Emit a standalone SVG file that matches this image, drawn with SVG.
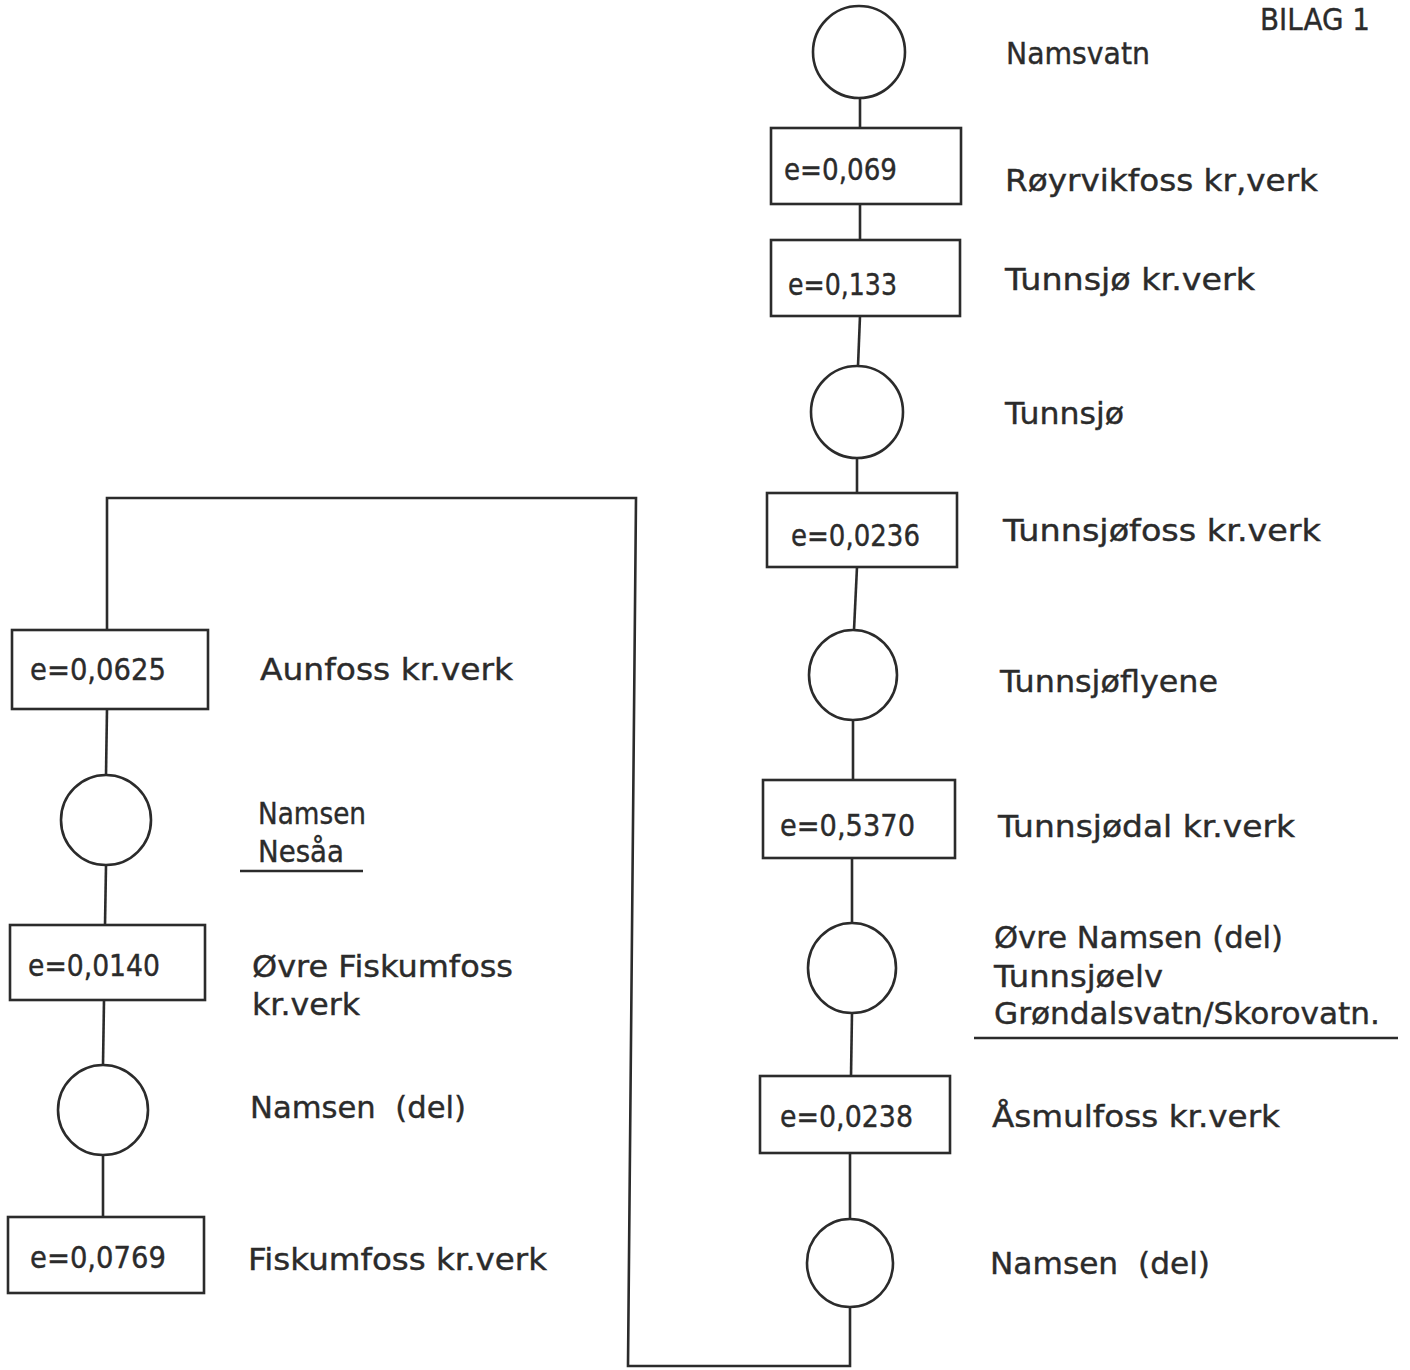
<svg xmlns="http://www.w3.org/2000/svg" width="1410" height="1370" viewBox="0 0 1410 1370">
<style>
.s{fill:none;stroke:#2b2b2b;stroke-width:2.6}
.b{fill:#fff;stroke:#2b2b2b;stroke-width:2.6}
.t{font-family:"DejaVu Sans",sans-serif;font-size:31px;fill:#2b2b2b;stroke:#2b2b2b;stroke-width:0.4}
</style>
<rect width="1410" height="1370" fill="#fff"/>
<g id="connectors" class="s">
<line x1="860" y1="98" x2="860" y2="128"/>
<line x1="860" y1="204" x2="860" y2="240"/>
<line x1="860" y1="316" x2="858" y2="366"/>
<line x1="857" y1="458" x2="857" y2="493"/>
<line x1="857" y1="567" x2="854" y2="630"/>
<line x1="853" y1="720" x2="853" y2="780"/>
<line x1="852" y1="858" x2="852" y2="923"/>
<line x1="852" y1="1013" x2="851" y2="1076"/>
<line x1="850" y1="1153" x2="850" y2="1220"/>
<polyline points="850,1307 850,1366 628,1366 636,498 107,498 107,630"/>
<line x1="107" y1="709" x2="106" y2="775"/>
<line x1="106" y1="866" x2="105" y2="925"/>
<line x1="104" y1="1000" x2="103" y2="1065"/>
<line x1="103" y1="1155" x2="103" y2="1217"/>
</g>
<g id="bilag"><text class="t" x="1260" y="30" font-size="28" textLength="110" lengthAdjust="spacingAndGlyphs">BILAG 1</text></g>
<g id="namsvatn"><ellipse class="b" cx="859" cy="52" rx="46" ry="46"/><text class="t" x="1006" y="64" textLength="144" lengthAdjust="spacingAndGlyphs">Namsvatn</text></g>
<g id="royrvikfoss"><rect class="b" x="771" y="128" width="190" height="76"/><text class="t" x="784" y="180" textLength="113" lengthAdjust="spacingAndGlyphs">e=0,069</text><text class="t" x="1005" y="191" textLength="313" lengthAdjust="spacingAndGlyphs">Røyrvikfoss kr,verk</text></g>
<g id="tunnsjo-kv"><rect class="b" x="771" y="240" width="189" height="76"/><text class="t" x="788" y="295" textLength="109" lengthAdjust="spacingAndGlyphs">e=0,133</text><text class="t" x="1005" y="290" textLength="250" lengthAdjust="spacingAndGlyphs">Tunnsjø kr.verk</text></g>
<g id="tunnsjo"><ellipse class="b" cx="857" cy="412" rx="46" ry="46"/><text class="t" x="1005" y="424" textLength="119" lengthAdjust="spacingAndGlyphs">Tunnsjø</text></g>
<g id="tunnsjofoss"><rect class="b" x="767" y="493" width="190" height="74"/><text class="t" x="791" y="546" textLength="129" lengthAdjust="spacingAndGlyphs">e=0,0236</text><text class="t" x="1003" y="541" textLength="318" lengthAdjust="spacingAndGlyphs">Tunnsjøfoss kr.verk</text></g>
<g id="tunnsjoflyene"><ellipse class="b" cx="853" cy="675" rx="44" ry="45"/><text class="t" x="1000" y="692" textLength="218" lengthAdjust="spacingAndGlyphs">Tunnsjøflyene</text></g>
<g id="tunnsjodal"><rect class="b" x="763" y="780" width="192" height="78"/><text class="t" x="780" y="836" textLength="135" lengthAdjust="spacingAndGlyphs">e=0,5370</text><text class="t" x="998" y="837" textLength="297" lengthAdjust="spacingAndGlyphs">Tunnsjødal kr.verk</text></g>
<g id="ovre-namsen"><ellipse class="b" cx="852" cy="968" rx="44" ry="45"/><text class="t" x="994" y="948" textLength="289" lengthAdjust="spacingAndGlyphs">Øvre Namsen (del)</text><text class="t" x="994" y="987" textLength="169" lengthAdjust="spacingAndGlyphs">Tunnsjøelv</text><text class="t" x="994" y="1024" textLength="386" lengthAdjust="spacingAndGlyphs">Grøndalsvatn/Skorovatn.</text><line class="s" x1="974" y1="1038" x2="1398" y2="1038"/></g>
<g id="asmulfoss"><rect class="b" x="760" y="1076" width="190" height="77"/><text class="t" x="780" y="1127" textLength="133" lengthAdjust="spacingAndGlyphs">e=0,0238</text><text class="t" x="992" y="1127" textLength="288" lengthAdjust="spacingAndGlyphs">Åsmulfoss kr.verk</text></g>
<g id="namsen-del-r"><ellipse class="b" cx="850" cy="1263" rx="43" ry="44"/><text class="t" x="990" y="1274" textLength="220" lengthAdjust="spacingAndGlyphs" xml:space="preserve">Namsen  (del)</text></g>
<g id="aunfoss"><rect class="b" x="12" y="630" width="196" height="79"/><text class="t" x="30" y="680" textLength="136" lengthAdjust="spacingAndGlyphs">e=0,0625</text><text class="t" x="260" y="680" textLength="253" lengthAdjust="spacingAndGlyphs">Aunfoss kr.verk</text></g>
<g id="namsen-nesaa"><ellipse class="b" cx="106" cy="820" rx="45" ry="45"/><text class="t" x="258" y="824" textLength="108" lengthAdjust="spacingAndGlyphs">Namsen</text><text class="t" x="258" y="862" textLength="86" lengthAdjust="spacingAndGlyphs">Nesåa</text><line class="s" x1="240" y1="871" x2="363" y2="871"/></g>
<g id="ovre-fiskumfoss"><rect class="b" x="10" y="925" width="195" height="75"/><text class="t" x="28" y="976" textLength="132" lengthAdjust="spacingAndGlyphs">e=0,0140</text><text class="t" x="252" y="977" textLength="261" lengthAdjust="spacingAndGlyphs">Øvre Fiskumfoss</text><text class="t" x="252" y="1015" textLength="108" lengthAdjust="spacingAndGlyphs">kr.verk</text></g>
<g id="namsen-del-l"><ellipse class="b" cx="103" cy="1110" rx="45" ry="45"/><text class="t" x="250" y="1118" textLength="216" lengthAdjust="spacingAndGlyphs" xml:space="preserve">Namsen  (del)</text></g>
<g id="fiskumfoss"><rect class="b" x="8" y="1217" width="196" height="76"/><text class="t" x="30" y="1268" textLength="136" lengthAdjust="spacingAndGlyphs">e=0,0769</text><text class="t" x="248" y="1270" textLength="299" lengthAdjust="spacingAndGlyphs">Fiskumfoss kr.verk</text></g>
</svg>
